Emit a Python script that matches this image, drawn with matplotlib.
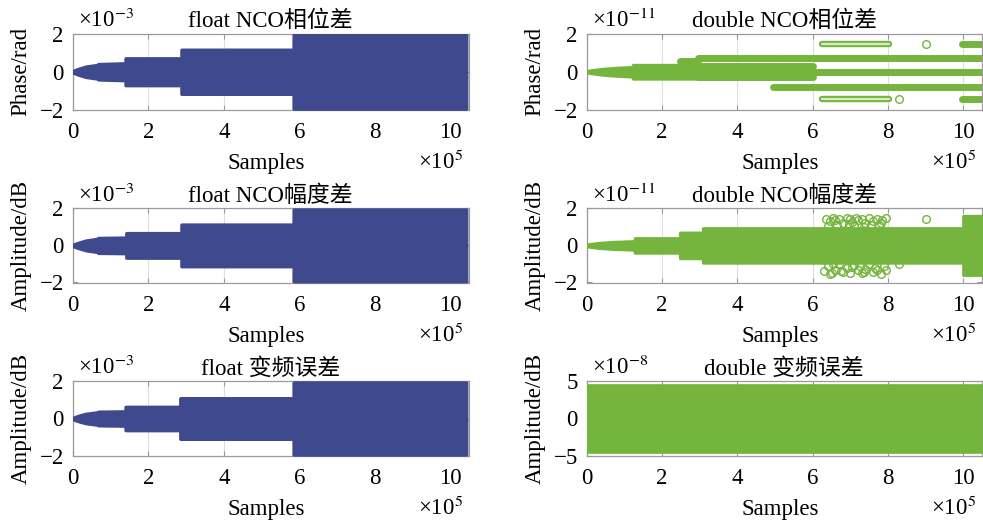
import matplotlib
matplotlib.use('Agg')
import matplotlib.pyplot as plt

plt.rcParams['font.family'] = ['Liberation Serif', 'Noto Sans CJK SC']
plt.rcParams['mathtext.fontset'] = 'stix'
plt.rcParams['font.size'] = 16.5
plt.rcParams['axes.unicode_minus'] = True

# ---------------- data (x in units of 1e5 samples) ----------------
x_max = 10.486
x_ticks = [0, 2, 4, 6, 8, 10]

# float panels: envelope of error (units 1e-3)
float_phase_x = [0, 0.15, 0.35, 0.68, 0.68, 1.40, 1.40, 2.88, 2.88, 5.85, 5.85, 10.42]
float_phase_amp = [0.03, 0.15, 0.27, 0.36, 0.40, 0.44, 0.70, 0.70, 1.15, 1.15, 1.93, 1.93]
float_amp_x = [0, 0.15, 0.35, 0.68, 0.68, 1.42, 1.42, 2.88, 2.88, 5.85, 5.85, 10.42]
float_amp_amp = [0.03, 0.14, 0.26, 0.36, 0.40, 0.42, 0.66, 0.66, 1.12, 1.12, 1.93, 1.93]
float_conv_x = [0, 0.15, 0.35, 0.67, 0.67, 1.40, 1.40, 2.85, 2.85, 5.85, 5.85, 10.42]
float_conv_amp = [0.03, 0.14, 0.25, 0.33, 0.36, 0.38, 0.62, 0.62, 1.08, 1.08, 1.92, 1.92]

# double phase (units 1e-11): early envelope + horizontal bands
dphase_env_x = [0, 0.4, 0.8, 1.23, 1.23, 2.96]
dphase_env_amp = [0.03, 0.14, 0.20, 0.24, 0.35, 0.35]
dphase_band_x0 = [2.48, 2.96, 5.15, 2.96, 2.96, 2.96, 4.95, 9.95, 9.95]
dphase_band_x1 = [2.96, 5.10, 10.486, 6.00, 10.486, 6.00, 10.486, 10.486, 10.486]
dphase_band_y = [0.55, 0.70, 0.70, 0.30, 0.0, -0.30, -0.80, 1.45, -1.45]
dphase_row_x0 = [6.25, 6.25]
dphase_row_x1 = [8.02, 8.02]
dphase_row_y = [1.45, -1.45]
dphase_out_x = [9.0, 8.3]
dphase_out_y = [1.45, -1.45]

# double amplitude (units 1e-11)
damp_env_x = [0, 0.3, 0.7, 1.28, 1.28, 2.48, 2.48, 3.09, 3.09, 10.0, 10.0, 10.486]
damp_env_amp = [0.04, 0.12, 0.18, 0.22, 0.38, 0.38, 0.68, 0.68, 0.92, 0.92, 1.58, 1.58]
damp_out_x = [6.35, 6.45, 6.55, 6.6, 6.7, 6.8, 6.9, 7.0, 7.05, 7.15, 7.2, 7.3, 7.4,
              7.5, 7.6, 7.7, 7.75, 7.85, 7.95, 6.4, 6.65, 6.95, 7.1, 7.35, 7.55, 7.8, 9.0,
              6.3, 6.4, 6.5, 6.6, 6.7, 6.8, 6.9, 7.0, 7.1, 7.2, 7.3, 7.4, 7.5, 7.6,
              7.7, 7.8, 7.9, 6.45, 6.75, 7.05, 7.35, 7.65, 7.95, 6.55, 7.25, 8.3]
damp_out_y = [1.45, 1.3, 1.5, 1.35, 1.45, 1.2, 1.5, 1.4, 1.25, 1.5, 1.35, 1.45, 1.2,
              1.5, 1.3, 1.45, 1.1, 1.35, 1.5, 1.05, 1.1, 1.15, 1.05, 1.0, 1.1, 1.2, 1.45,
              -1.4, -1.1, -1.5, -1.3, -1.0, -1.45, -1.2, -1.5, -1.05, -1.35, -1.5, -1.25,
              -1.0, -1.45, -1.3, -1.55, -1.1, -1.55, -1.4, -1.15, -1.45, -1.2, -1.35,
              -1.0, -1.1, -0.98]

# double conversion (units 1e-8)
dconv_x = [0, 10.486]
dconv_amp = [4.55, 4.55]

titles = ['float NCO相位差', 'double NCO相位差', 'float NCO幅度差',
          'double NCO幅度差', 'float 变频误差', 'double 变频误差']
ylabels = ['Phase/rad', 'Phase/rad', 'Amplitude/dB', 'Amplitude/dB',
           'Amplitude/dB', 'Amplitude/dB']
exponents = ['×10$^{-3}$', '×10$^{-11}$', '×10$^{-3}$', '×10$^{-11}$',
             '×10$^{-3}$', '×10$^{-8}$']
ylims = [2, 2, 2, 2, 2, 5]

# ---------------- style ----------------
BLUE = '#3F4A8E'
GREEN = '#75B43D'
SPINE = '#9a9a9a'
GRID = '#dedede'

W, H = 983, 520
fig = plt.figure(figsize=(W / 100, H / 100), dpi=100)

col_left = [72.7, 586.7]
col_w = [396.0, 395.0]
rows = [(33.5, 110.0), (208.3, 282.5), (381.0, 456.0)]

axes = []
for r, (top, bot) in enumerate(rows):
    for c in range(2):
        ax = fig.add_axes([col_left[c] / W, 1 - bot / H, col_w[c] / W, (bot - top) / H])
        axes.append((ax, r, c, bot - top, col_w[c]))


def env_fill(ax, x, amp, color):
    lo = [-a for a in amp]
    ax.fill_between(x, lo, amp, facecolor=color, edgecolor=color,
                    linewidth=2.5, joinstyle='round', zorder=3)


for i, (ax, r, c, h_px, w_px) in enumerate(axes):
    lim = ylims[i]
    ax.set_xlim(0, x_max)
    ax.set_ylim(-lim, lim)
    ax.set_xticks(x_ticks)
    ax.set_yticks([-lim, 0, lim])
    ax.xaxis.grid(True, color=GRID, linewidth=0.8, zorder=0)
    ax.set_axisbelow(True)
    for s in ax.spines.values():
        s.set_color(SPINE)
        s.set_linewidth(0.9)
    ax.tick_params(direction='in', length=3.5, width=0.8, color=SPINE,
                   top=True, right=True, labelsize=16.5)
    ax.tick_params(axis='x', pad=9)
    ax.tick_params(axis='y', pad=6.5)
    ax.set_title(titles[i], fontsize=16.5, pad=4.5)
    ax.set_xlabel('Samples', fontsize=16.5)
    ax.xaxis.set_label_coords(0.49, -54.0 / h_px)
    ax.xaxis.label.set_verticalalignment('center')
    ax.set_ylabel(ylabels[i], fontsize=16.5)
    ax.yaxis.set_label_coords(-51.5 / w_px, 0.5)
    ax.yaxis.label.set_verticalalignment('center')
    ax.annotate(exponents[i], xy=(0, 1), xycoords='axes fraction',
                xytext=(5, 6.5), textcoords='offset pixels',
                ha='left', va='baseline', fontsize=16.5)
    ax.annotate('×10$^{5}$', xy=(1, 0), xycoords='axes fraction',
                xytext=(-6, -59), textcoords='offset pixels',
                ha='right', va='baseline', fontsize=16.5)

# left column: float
env_fill(axes[0][0], float_phase_x, float_phase_amp, BLUE)
env_fill(axes[2][0], float_amp_x, float_amp_amp, BLUE)
env_fill(axes[4][0], float_conv_x, float_conv_amp, BLUE)

# right column: double phase
ax = axes[1][0]
env_fill(ax, dphase_env_x, dphase_env_amp, GREEN)
for x0, x1, y in zip(dphase_band_x0, dphase_band_x1, dphase_band_y):
    ax.plot([x0, x1], [y, y], color=GREEN, linewidth=5.0,
            solid_capstyle='round', zorder=3)
for x0, x1, y in zip(dphase_row_x0, dphase_row_x1, dphase_row_y):
    ax.plot([x0, x1], [y, y], color=GREEN, linewidth=4.6,
            solid_capstyle='round', zorder=3)
    ax.plot([x0, x1], [y, y], color='#d9ecc8', linewidth=1.6,
            solid_capstyle='round', zorder=4)
ax.plot(dphase_out_x, dphase_out_y, linestyle='none', marker='o', markersize=5.5,
        markerfacecolor='none', markeredgecolor=GREEN, markeredgewidth=1.0, zorder=3)

# double amplitude
ax = axes[3][0]
env_fill(ax, damp_env_x, damp_env_amp, GREEN)
ax.plot(damp_out_x, damp_out_y, linestyle='none', marker='o', markersize=5.5,
        markerfacecolor='none', markeredgecolor=GREEN, markeredgewidth=1.0, zorder=3)

# double conversion
ax = axes[5][0]
ax.fill_between(dconv_x, [-a for a in dconv_amp], dconv_amp,
                facecolor=GREEN, edgecolor=GREEN, linewidth=0.5, zorder=3)

fig.savefig('out.png', dpi=100)
